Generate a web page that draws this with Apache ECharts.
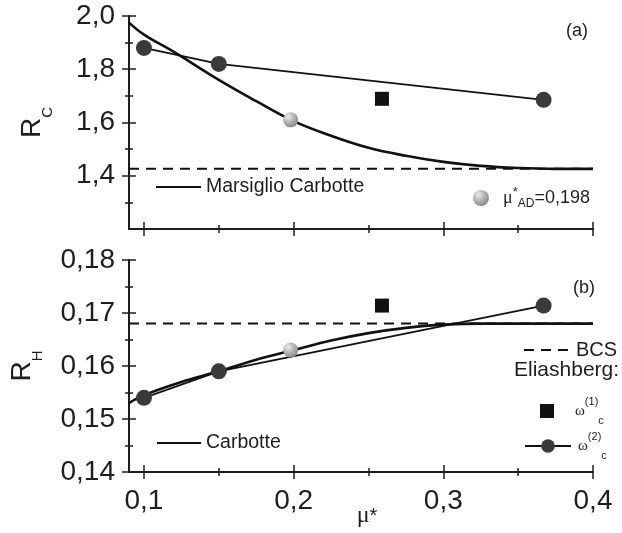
<!DOCTYPE html>
<html lang="en">
<head>
<meta charset="UTF-8">
<title>R_C and R_H vs mu*</title>
<script src="https://cdn.jsdelivr.net/npm/echarts@6/dist/echarts.min.js"></script>
<style>
    *{
        margin: 0;
        padding: 0;
    }
    html,body{
        width: 100%;
        height: 100%;
        background: #fff;
    }
    .main{
        width: 622px;
        height: 533px;
    }
</style>
</head>
<body>
<div class="main"></div>
<script>
    // mu* axis
    let xMin = 0.09, xMax = 0.4;
    let xMajor = [0.1, 0.2, 0.3, 0.4];
    let xMinor = [0.15, 0.25, 0.35];
    // panel (a): R_C
    let rcMin = 1.2, rcMax = 2.0;
    let rcMajor = [1.4, 1.6, 1.8, 2.0];
    let rcMinor = [1.3, 1.5, 1.7, 1.9];
    // panel (b): R_H
    let rhMin = 0.14, rhMax = 0.18;
    let rhMajor = [0.14, 0.15, 0.16, 0.17, 0.18];
    let rhMinor = [0.145, 0.155, 0.165, 0.175];

    // Marsiglio Carbotte curve (a)
    let mcMu = [0.09, 0.1, 0.12, 0.15, 0.175, 0.2, 0.225, 0.25, 0.275, 0.3, 0.325, 0.35, 0.375, 0.4];
    let mcRc = [1.975, 1.93, 1.865, 1.76, 1.68, 1.605, 1.55, 1.505, 1.475, 1.452, 1.437, 1.429, 1.426, 1.426];
    // Carbotte curve (b)
    let cbMu = [0.09, 0.1, 0.125, 0.15, 0.175, 0.2, 0.225, 0.25, 0.275, 0.3, 0.325, 0.35, 0.4];
    let cbRh = [0.153, 0.1545, 0.157, 0.159, 0.1612, 0.163, 0.1648, 0.1662, 0.1672, 0.1678, 0.168, 0.168, 0.168];
    // BCS levels
    let bcsMu = [0.09, 0.4];
    let bcsRc = [1.426, 1.426];
    let bcsRh = [0.168, 0.168];
    // Eliashberg, omega_c(2)
    let el2Mu = [0.1, 0.15, 0.367];
    let el2Rc = [1.88, 1.82, 1.685];
    let el2Rh = [0.154, 0.159, 0.1714];
    // Eliashberg, omega_c(1)
    let el1Mu = [0.259];
    let el1Rc = [1.689];
    let el1Rh = [0.1714];
    // mu*_AD = 0.198
    let adMu = [0.198];
    let adRc = [1.61];
    let adRh = [0.163];

    let font = 'Liberation Sans';
    let ink = '#1e1e1e';
    let zip = (a, b) => a.map((v, i) => [v, b[i]]);
    let comma = d => v => v.toFixed(d).replace('.', ',');

    // four overlapping axes per side so ticks cross the axis line
    function axes(gridIndex, position, min, max, major, minor, label, extra) {
        let base = {
            type: 'value', gridIndex, position, min, max,
            splitLine: {show: false},
            axisLine: {show: true, onZero: false, lineStyle: {color: ink, width: 1.5}},
            axisLabel: {show: false}
        };
        let tick = (vals, len, inside) => ({
            show: true, customValues: vals, length: len, inside,
            lineStyle: {color: ink, width: 1.5}
        });
        let first = Object.assign({}, base, {axisTick: tick(major, 7, false)}, extra || {});
        if (label) {
            first.axisLabel = {
                show: true, customValues: major, formatter: label,
                fontSize: 28, color: ink, fontFamily: font, margin: position == 'left' ? 14 : 15
            };
        }
        return [
            first,
            Object.assign({}, base, {axisTick: tick(major, 7, true)}),
            Object.assign({}, base, {axisTick: tick(minor, 4, false)}),
            Object.assign({}, base, {axisTick: tick(minor, 4, true)})
        ];
    }

    let nameRich = {
        r: {fontSize: 28, fontFamily: font, color: ink, lineHeight: 46},
        c: {fontSize: 15, fontFamily: font, color: ink, verticalAlign: 'bottom'},
        m: {fontSize: 24, fontFamily: 'Liberation Serif', color: ink, lineHeight: 34},
        s: {fontSize: 20, fontFamily: font, color: ink}
    };

    let xAxis = [].concat(
        axes(0, 'bottom', xMin, xMax, xMajor, xMinor, null),
        axes(1, 'bottom', xMin, xMax, xMajor, xMinor, comma(1), {
            name: '{m|μ}{s|*}', nameLocation: 'middle', nameGap: 27, nameMoveOverlap: false,
            nameTextStyle: {rich: nameRich, padding: [0, 0, 0, 12]}
        })
    );
    let yAxis = [].concat(
        axes(0, 'left', rcMin, rcMax, rcMajor, rcMinor, comma(1), {
            name: '{r|R}{c|C}', nameLocation: 'middle', nameGap: 74, nameMoveOverlap: false,
            nameTextStyle: {rich: nameRich}
        }),
        axes(1, 'left', rhMin, rhMax, rhMajor, rhMinor, comma(2), {
            name: '{r|R}{c|H}', nameLocation: 'middle', nameGap: 84, nameMoveOverlap: false,
            nameTextStyle: {rich: nameRich}
        })
    );

    let sphere = new echarts.graphic.RadialGradient(0.35, 0.3, 0.75, [
        {offset: 0, color: '#ececec'},
        {offset: 0.5, color: '#b4b4b4'},
        {offset: 1, color: '#858585'}
    ]);

    let series = [];
    [[0, mcMu, mcRc, 'Marsiglio Carbotte', bcsRc, el2Rc, el1Rc, adRc],
     [1, cbMu, cbRh, 'Carbotte', bcsRh, el2Rh, el1Rh, adRh]].forEach(p => {
        let ax = p[0] * 4;
        series.push({
            name: p[3], type: 'line', xAxisIndex: ax, yAxisIndex: ax,
            data: zip(p[1], p[2]), smooth: 0.4, symbol: 'none',
            lineStyle: {color: '#111', width: 2.6}, itemStyle: {color: '#111'}, z: 3
        });
        series.push({
            name: 'BCS', type: 'line', xAxisIndex: ax, yAxisIndex: ax,
            data: zip(bcsMu, p[4]), symbol: 'none',
            lineStyle: {color: '#111', width: 2, type: [10, 7]}, itemStyle: {color: '#111'}, z: 2
        });
        series.push({
            name: 'w2', type: 'line', xAxisIndex: ax, yAxisIndex: ax,
            data: zip(el2Mu, p[5]), symbol: 'circle', symbolSize: 16,
            lineStyle: {color: '#111', width: 1.8}, itemStyle: {color: '#3a3a3a'}, z: 4
        });
        series.push({
            name: 'w1', type: 'scatter', xAxisIndex: ax, yAxisIndex: ax,
            data: zip(el1Mu, p[6]), symbol: 'rect', symbolSize: 14,
            itemStyle: {color: '#111', opacity: 1}, z: 4
        });
        series.push({
            name: 'AD', type: 'scatter', xAxisIndex: ax, yAxisIndex: ax,
            data: zip(adMu, p[7]), symbol: 'circle', symbolSize: 15,
            itemStyle: {color: sphere, opacity: 1}, z: 5
        });
    });

    let legendRich = {
        mu: {fontSize: 18, fontFamily: 'Liberation Serif', color: ink, lineHeight: 24},
        st: {fontSize: 13, fontFamily: font, color: ink, verticalAlign: 'top'},
        ad: {fontSize: 12, fontFamily: font, color: ink, verticalAlign: 'bottom'},
        t: {fontSize: 18, fontFamily: font, color: ink},
        w: {fontSize: 15, fontFamily: 'Liberation Serif', color: ink, lineHeight: 30, padding: [0, 0, 0, 2]},
        up: {fontSize: 11, fontFamily: font, color: ink, verticalAlign: 'top'},
        dn: {fontSize: 11, fontFamily: font, color: ink, verticalAlign: 'bottom'}
    };
    let labels = {
        'AD': '{mu|μ}{st|*}{ad|AD}{t|=0,198}',
        'w1': '{w|ω}{up|(1)}{dn|c}',
        'w2': '{w|ω}{up|(2)}{dn|c}'
    };
    let legend = (name, left, top, w, h, lineOnly, size, pad) => ({
        data: [name], left, top, itemWidth: w, itemHeight: h, padding: 0,
        selectedMode: false,
        itemStyle: lineOnly ? {opacity: 0} : {},
        formatter: n => labels[n] || n,
        textStyle: {fontSize: size || 19.5, fontFamily: font, color: ink, rich: legendRich, padding: pad || 0}
    });

    let option = {
        backgroundColor: '#fff',
        animation: false,
        textStyle: {fontFamily: font},
        grid: [
            {left: 129, top: 16, right: 29, height: 213, outerBoundsMode: 'none'},
            {left: 129, top: 260, right: 29, height: 212, outerBoundsMode: 'none'}
        ],
        title: [
            {text: '(a)', left: 566, top: 22, padding: 0, textStyle: {fontSize: 18, fontWeight: 'normal', color: ink, fontFamily: font}},
            {text: '(b)', left: 573, top: 279, padding: 0, textStyle: {fontSize: 18, fontWeight: 'normal', color: ink, fontFamily: font}},
            {text: 'Eliashberg:', left: 514, top: 360, padding: 0, textStyle: {fontSize: 21, fontWeight: 'normal', color: ink, fontFamily: font}}
        ],
        legend: [
            legend('Marsiglio Carbotte', 155, 177, 45, 16, true),
            legend('AD', 473, 186, 26, 16, false, 18, [0, 0, 0, 4]),
            legend('Carbotte', 156, 433, 44, 16, true),
            legend('BCS', 523, 340, 47, 16, true, 20),
            legend('w1', 540, 396, 14, 14, false, 15, [0, 0, 0, 14]),
            legend('w2', 524, 431, 46, 17, false)
        ],
        xAxis,
        yAxis,
        series
    };
    let main = echarts.init(document.getElementsByClassName('main')[0]);
    main.setOption(option);
</script>
</body>
</html>
